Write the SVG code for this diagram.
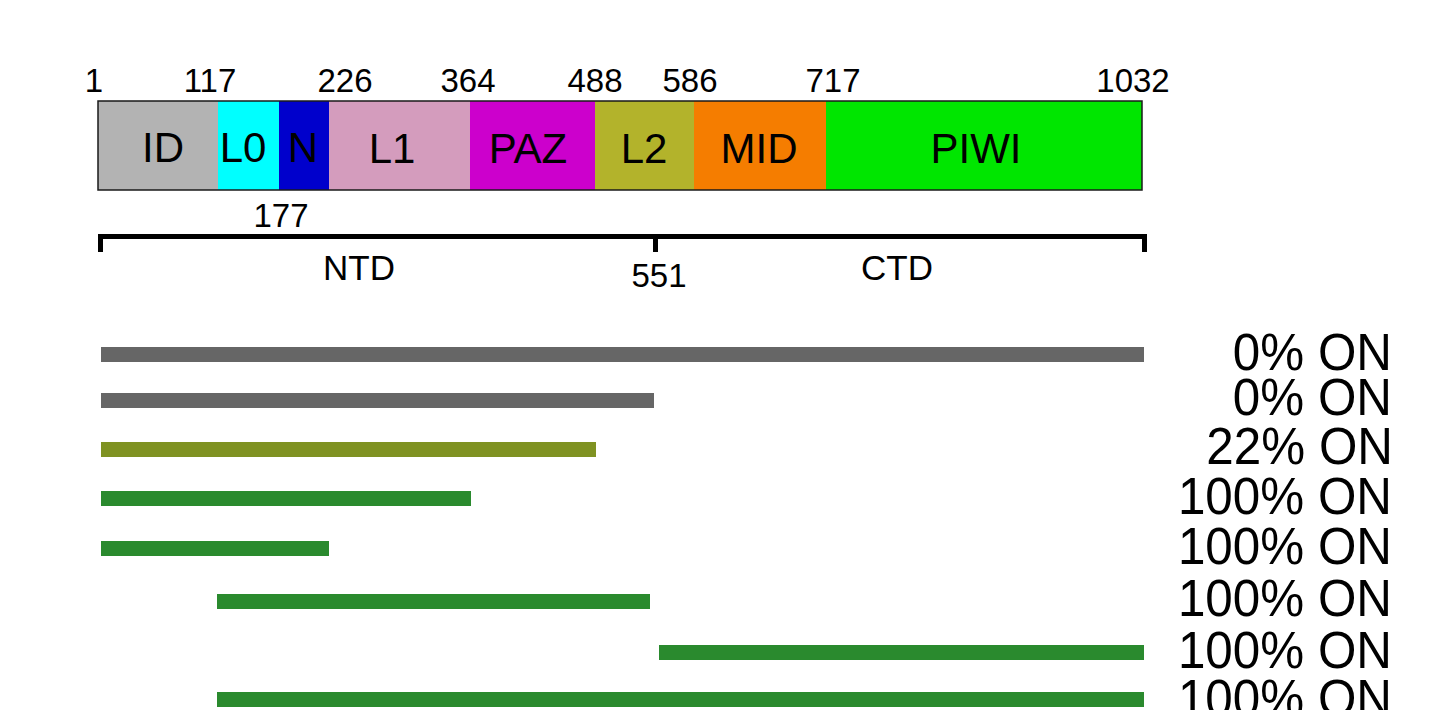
<svg xmlns="http://www.w3.org/2000/svg" width="1430" height="710" viewBox="0 0 1430 710">
<style>
text{font-family:"Liberation Sans",Arial,sans-serif;fill:#000}
.num{font-size:33px;text-anchor:middle}
.lab{font-size:35px;text-anchor:middle}
.dom{font-size:42px;text-anchor:middle}
.res{font-size:52px;text-anchor:end}
.gray{fill:#666666}
.olive{fill:#7f9222}
.green{fill:#2a8a2e}
</style>
<rect width="1430" height="710" fill="#ffffff"/>
<g id="domains">
<g id="ID"><rect x="98" y="101" width="120" height="89" fill="#b3b3b3"/><text class="dom" x="163" y="162">ID</text></g>
<g id="L0"><rect x="218" y="101" width="61" height="89" fill="#00ffff"/><text class="dom" x="243" y="162">L0</text></g>
<g id="N"><rect x="279" y="101" width="50" height="89" fill="#0000cc"/><text class="dom" x="303" y="162">N</text></g>
<g id="L1"><rect x="329" y="101" width="141" height="89" fill="#d49cbd"/><text class="dom" x="392" y="163">L1</text></g>
<g id="PAZ"><rect x="470" y="101" width="125" height="89" fill="#cc00cc"/><text class="dom" x="528" y="163">PAZ</text></g>
<g id="L2"><rect x="595" y="101" width="99" height="89" fill="#b3b32b"/><text class="dom" x="644" y="163">L2</text></g>
<g id="MID"><rect x="694" y="101" width="132" height="89" fill="#f57d00"/><text class="dom" x="759" y="163">MID</text></g>
<g id="PIWI"><rect x="826" y="101" width="316" height="89" fill="#00e600"/><text class="dom" x="976" y="163">PIWI</text></g>
<rect x="98" y="101" width="1044" height="89" fill="none" stroke="#1a1a1a" stroke-width="1.5"/>
</g>
<g id="positions">
<text class="num" x="94" y="92">1</text>
<text class="num" x="210" y="92">117</text>
<text class="num" x="345" y="92">226</text>
<text class="num" x="468" y="92">364</text>
<text class="num" x="595" y="92">488</text>
<text class="num" x="690" y="92">586</text>
<text class="num" x="833" y="92">717</text>
<text class="num" x="1133" y="92">1032</text>
<text class="num" x="281" y="227">177</text>
</g>
<g id="bracket">
<path d="M100.5,252 V236.5 H1144.5 V252 M655.5,236.5 V252" fill="none" stroke="#000" stroke-width="5"/>
<text class="lab" x="359" y="280">NTD</text>
<text class="num" x="659" y="287">551</text>
<text class="lab" x="897" y="280">CTD</text>
</g>
<g id="constructs">
<g id="c1"><rect class="gray" x="101" y="347" width="1043" height="15"/><text class="res" transform="translate(1392,370) scale(0.95,1)">0% ON</text></g>
<g id="c2"><rect class="gray" x="101" y="393" width="553" height="15"/><text class="res" transform="translate(1392,415) scale(0.95,1)">0% ON</text></g>
<g id="c3"><rect class="olive" x="101" y="442" width="495" height="15"/><text class="res" transform="translate(1393,464) scale(0.95,1)">22% ON</text></g>
<g id="c4"><rect class="green" x="101" y="491" width="370" height="15"/><text class="res" transform="translate(1392,514) scale(0.95,1)">100% ON</text></g>
<g id="c5"><rect class="green" x="101" y="541" width="228" height="15"/><text class="res" transform="translate(1392,564) scale(0.95,1)">100% ON</text></g>
<g id="c6"><rect class="green" x="217" y="594" width="433" height="15"/><text class="res" transform="translate(1392,616) scale(0.95,1)">100% ON</text></g>
<g id="c7"><rect class="green" x="659" y="645" width="485" height="15"/><text class="res" transform="translate(1392,668) scale(0.95,1)">100% ON</text></g>
<g id="c8"><rect class="green" x="217" y="692" width="927" height="15"/><text class="res" transform="translate(1392,716) scale(0.95,1)">100% ON</text></g>
</g>
</svg>
